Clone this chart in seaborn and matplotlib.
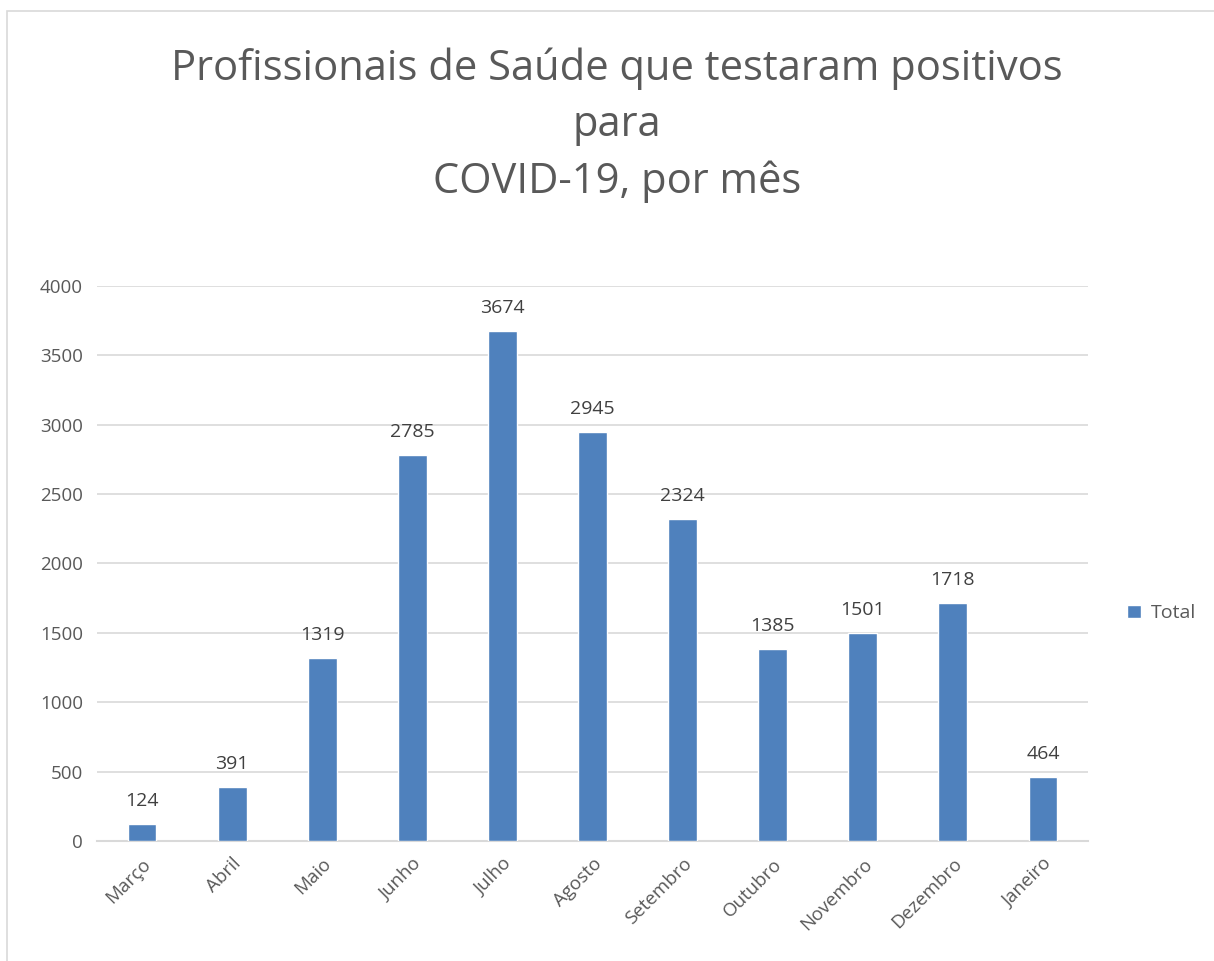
import matplotlib
matplotlib.use("Agg")
import matplotlib.pyplot as plt
import seaborn as sns
import pandas as pd
from matplotlib.patches import Rectangle

# Chart data
months = ['Março', 'Abril', 'Maio', 'Junho', 'Julho', 'Agosto', 'Setembro',
          'Outubro', 'Novembro', 'Dezembro', 'Janeiro']
totals = [124, 391, 1319, 2785, 3674, 2945, 2324, 1385, 1501, 1718, 464]
y_ticks = [0, 500, 1000, 1500, 2000, 2500, 3000, 3500, 4000]

df = pd.DataFrame({'mes': months, 'Total': totals})

sns.set_style("white")
plt.rcParams['font.family'] = ['Open Sans', 'DejaVu Sans']

bar_color = '#4f81bd'
text_color = '#595959'

fig = plt.figure(figsize=(12.14, 9.61), dpi=100)
ax = fig.add_axes([0.0799, 0.1249, 0.8163, 0.5775])

sns.barplot(data=df, x='mes', y='Total', color=bar_color, width=0.32,
            saturation=1, ax=ax, label='Total', zorder=3)

ax.set_ylim(0, 4000)
ax.set_xlim(-0.5, len(months) - 0.5)
ax.set_yticks(y_ticks)
ax.set_yticklabels([str(t) for t in y_ticks], fontsize=13.5, color=text_color)
ax.set_xticks(range(len(months)))
ax.set_xticklabels(months, rotation=45, ha='right', rotation_mode='anchor',
                   fontsize=13.5, color=text_color)
ax.tick_params(axis='both', length=0, pad=10)
ax.set_xlabel('')
ax.set_ylabel('')
ax.yaxis.grid(True, color='#d9d9d9', linewidth=1.2, zorder=0)
for s in ['top', 'right', 'left']:
    ax.spines[s].set_visible(False)
ax.spines['bottom'].set_color('#d9d9d9')
ax.spines['bottom'].set_linewidth(1.5)

# value labels
for c in ax.containers:
    ax.bar_label(c, padding=10, fontsize=14, color='#404040')

# legend
leg = ax.legend(loc='center left', bbox_to_anchor=(1.022, 0.41), frameon=False,
                fontsize=14, handlelength=0.7, handleheight=0.7,
                handletextpad=0.5)
for t in leg.get_texts():
    t.set_color(text_color)

fig.suptitle('Profissionais de Saúde que testaram positivos\npara\nCOVID-19, por mês',
             x=0.508, y=0.951, fontsize=30, color=text_color, linespacing=1.45)

# outer chart border
fig.patches.append(Rectangle((7 / 1214, -0.01), 1.05, 1 - 11 / 961 + 0.01,
                             transform=fig.transFigure, fill=False,
                             edgecolor='#d9d9d9', linewidth=1.2))

fig.savefig('out.png', dpi=100, facecolor='white')
